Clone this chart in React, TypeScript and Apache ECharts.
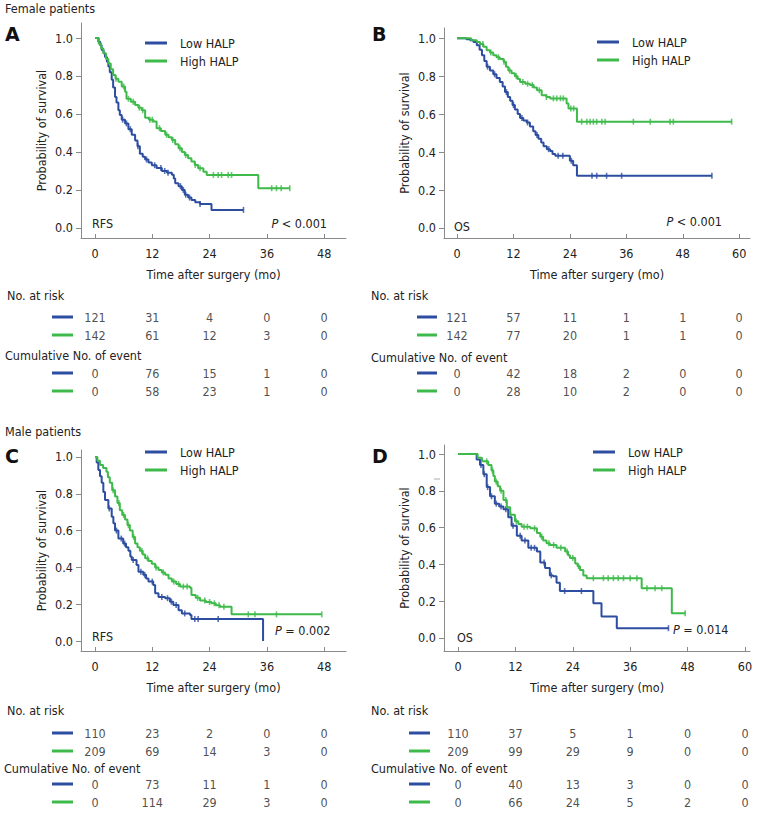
import React, { useEffect, useRef } from "react";
import * as echarts from "echarts";

const FONT = '"DejaVu Sans Condensed", "DejaVu Sans", sans-serif';
const BLUE = "#2c4da0";
const GREEN = "#3dba4a";
const TXT = "#222222";
const AX = "#8a8a8a";

// ---------- Panel A: female RFS ----------
const aLowT = [0, 0.7, 1.1, 1.4, 1.8, 2.1, 2.5, 2.8, 3.1, 3.5, 3.8, 4.2, 4.5, 4.9, 5.2, 5.6, 6.3, 7.0, 7.7, 8.4, 8.9, 9.4, 10.0, 10.5, 11.2, 11.9, 12.9, 14.0, 15.1, 16.1, 16.5, 16.8, 17.5, 18.2, 18.8, 19.5, 20.2, 21.0, 22.0, 24.4, 31.1];
const aLowS = [1.0, 0.98, 0.96, 0.937, 0.92, 0.9, 0.875, 0.85, 0.82, 0.78, 0.74, 0.69, 0.66, 0.62, 0.595, 0.57, 0.55, 0.52, 0.49, 0.46, 0.43, 0.39, 0.375, 0.36, 0.345, 0.33, 0.315, 0.3, 0.29, 0.28, 0.26, 0.235, 0.22, 0.2, 0.175, 0.16, 0.147, 0.135, 0.126, 0.095, 0.095];
const aLowCens = [5.8, 6.6, 7.4, 9.0, 10.8, 12.5, 13.8, 14.6, 15.3, 17.9, 18.5, 19.0, 19.8, 22.0, 31.1];
const aHighT = [0, 0.8, 1.3, 1.75, 2.3, 2.8, 3.3, 3.8, 4.3, 4.9, 5.6, 6.3, 6.6, 7.5, 8.4, 9.1, 9.8, 10.5, 11.3, 12.2, 12.9, 13.8, 14.7, 15.4, 16.1, 16.8, 17.5, 18.2, 18.8, 19.5, 20.2, 20.9, 21.6, 22.7, 23.4, 34.2, 40.8];
const aHighS = [1.0, 0.97, 0.945, 0.92, 0.89, 0.866, 0.835, 0.805, 0.785, 0.77, 0.745, 0.717, 0.68, 0.665, 0.647, 0.633, 0.62, 0.58, 0.57, 0.56, 0.525, 0.51, 0.49, 0.478, 0.463, 0.44, 0.42, 0.4, 0.384, 0.367, 0.35, 0.332, 0.314, 0.296, 0.279, 0.209, 0.209];
const aHighCens = [4.4, 6.0, 7.0, 8.0, 9.3, 10.0, 11.5, 12.0, 13.5, 15.0, 16.3, 17.8, 19.0, 21.0, 22.0, 24.8, 25.8, 26.5, 27.9, 28.6, 37, 38, 39, 40.8];
const aRiskLow = [121, 31, 4, 0, 0];
const aRiskHigh = [142, 61, 12, 3, 0];
const aEventLow = [0, 76, 15, 1, 0];
const aEventHigh = [0, 58, 23, 1, 0];

// ---------- Panel B: female OS ----------
const bLowT = [0, 2.0, 2.8, 3.5, 4.2, 4.8, 5.3, 5.8, 6.3, 7.0, 7.7, 8.4, 9.1, 9.7, 10.2, 10.8, 11.3, 11.8, 12.3, 12.9, 13.4, 14.1, 14.8, 15.5, 16.2, 16.7, 17.3, 17.9, 18.4, 19.1, 19.8, 20.3, 20.9, 24.0, 24.7, 25.5, 54.2];
const bLowS = [1.0, 0.995, 0.99, 0.98, 0.963, 0.94, 0.91, 0.88, 0.85, 0.83, 0.81, 0.79, 0.77, 0.745, 0.716, 0.69, 0.67, 0.648, 0.625, 0.6, 0.58, 0.567, 0.556, 0.535, 0.51, 0.49, 0.47, 0.45, 0.43, 0.415, 0.405, 0.39, 0.38, 0.354, 0.33, 0.275, 0.275];
const bLowCens = [6.5, 8.0, 10.5, 12.0, 13.8, 15.0, 17.0, 19.5, 21.5, 22.5, 24.3, 28.7, 29.7, 31.8, 35, 54.2];
const bHighT = [0, 3.0, 4.2, 4.9, 5.6, 6.3, 7.0, 7.7, 8.4, 9.1, 9.9, 10.4, 10.9, 11.6, 12.3, 12.9, 13.4, 14.5, 15.5, 16.3, 17.0, 18.0, 19.0, 19.8, 23.3, 23.7, 25.5, 58.4];
const bHighS = [1.0, 0.99, 0.98, 0.97, 0.955, 0.937, 0.925, 0.91, 0.9, 0.89, 0.876, 0.85, 0.83, 0.815, 0.8, 0.785, 0.77, 0.76, 0.753, 0.74, 0.726, 0.7, 0.69, 0.683, 0.656, 0.63, 0.56, 0.56];
const bHighCens = [5.5, 7.2, 8.8, 10.0, 11.2, 12.6, 14.0, 15.0, 16.0, 17.5, 19.0, 20.5, 21.2, 22.0, 22.6, 24.2, 24.8, 26.5, 27.6, 28.3, 29, 29.7, 30.8, 31.5, 37.5, 41.1, 45.3, 46, 58.4];
const bRiskLow = [121, 57, 11, 1, 1, 0];
const bRiskHigh = [142, 77, 20, 1, 1, 0];
const bEventLow = [0, 42, 18, 2, 0, 0];
const bEventHigh = [0, 28, 10, 2, 0, 0];

// ---------- Panel C: male RFS ----------
const cLowT = [0, 0.35, 0.7, 1.05, 1.4, 1.75, 2.1, 2.8, 3.5, 3.85, 4.2, 4.9, 5.9, 6.5, 7.0, 7.4, 7.7, 8.7, 9.1, 10.1, 10.7, 11.2, 12.2, 12.6, 13.3, 14.7, 15.7, 16.4, 17.5, 18.2, 19.9, 20.2, 35.2];
const cLowS = [1.0, 0.97, 0.93, 0.895, 0.86, 0.81, 0.766, 0.72, 0.675, 0.64, 0.6, 0.557, 0.53, 0.51, 0.49, 0.46, 0.44, 0.413, 0.377, 0.36, 0.34, 0.323, 0.304, 0.26, 0.24, 0.233, 0.214, 0.196, 0.168, 0.15, 0.141, 0.12, 0.0];
const cLowCens = [3.0, 4.5, 5.5, 6.2, 8.0, 9.6, 10.4, 12.0, 14.0, 15.2, 16.0, 17.0, 18.8, 20.9, 21.6, 25.8];
const cHighT = [0, 0.5, 1.05, 1.7, 2.4, 2.7, 3.1, 3.6, 4.2, 4.7, 5.2, 5.7, 6.3, 6.8, 7.3, 7.9, 8.4, 8.9, 9.4, 10.0, 10.5, 11.2, 11.9, 12.6, 13.3, 14.0, 14.7, 15.4, 16.1, 17.0, 17.8, 19.9, 20.2, 21.1, 22.0, 23.2, 24.4, 25.3, 26.2, 28.6, 47.5];
const cHighS = [1.0, 0.98, 0.957, 0.94, 0.92, 0.89, 0.86, 0.82, 0.785, 0.75, 0.71, 0.685, 0.66, 0.63, 0.6, 0.565, 0.53, 0.51, 0.49, 0.47, 0.45, 0.435, 0.42, 0.4, 0.386, 0.373, 0.36, 0.34, 0.323, 0.31, 0.296, 0.29, 0.25, 0.235, 0.22, 0.212, 0.205, 0.195, 0.187, 0.145, 0.145];
const cHighCens = [3.8, 5.0, 6.0, 7.0, 8.1, 9.8, 11.0, 12.8, 14.3, 16.5, 17.5, 18.5, 19.3, 21.5, 23.0, 24.0, 25.0, 26.0, 27.0, 32.1, 33.5, 38, 47.5];
const cRiskLow = [110, 23, 2, 0, 0];
const cRiskHigh = [209, 69, 14, 3, 0];
const cEventLow = [0, 73, 11, 1, 0];
const cEventHigh = [0, 114, 29, 3, 0];

// ---------- Panel D: male OS ----------
const dLowT = [0, 3.2, 3.9, 4.6, 5.3, 6.0, 6.7, 7.7, 8.6, 9.5, 10.5, 11.2, 12.3, 13.3, 14.7, 16.5, 17.2, 18.2, 19.2, 19.9, 20.6, 21.3, 28.3, 30.0, 33.2, 44.0];
const dLowS = [1.0, 1.0, 0.97, 0.94, 0.89, 0.82, 0.77, 0.73, 0.715, 0.7, 0.656, 0.61, 0.556, 0.53, 0.49, 0.47, 0.41, 0.38, 0.34, 0.335, 0.3, 0.255, 0.188, 0.116, 0.053, 0.053];
const dLowCens = [4.8, 5.5, 6.2, 7.0, 8.0, 9.0, 10.0, 11.5, 13.0, 14.0, 15.3, 16.0, 18.0, 19.5, 22.3, 25.8, 44.0];
const dHighT = [0, 3.2, 4.1, 5.0, 6.3, 7.0, 7.4, 7.7, 8.3, 8.8, 9.5, 10.2, 10.9, 11.9, 12.6, 13.3, 15.1, 16.5, 17.2, 17.8, 18.5, 19.2, 20.6, 22.4, 23.0, 23.4, 24.5, 25.0, 25.5, 26.2, 26.9, 38.4, 44.7, 47.5];
const dHighS = [1.0, 1.0, 0.98, 0.96, 0.94, 0.91, 0.88, 0.85, 0.825, 0.8, 0.75, 0.71, 0.67, 0.634, 0.62, 0.605, 0.596, 0.57, 0.55, 0.53, 0.515, 0.505, 0.49, 0.47, 0.45, 0.435, 0.405, 0.39, 0.37, 0.34, 0.325, 0.27, 0.134, 0.134];
const dHighCens = [6.0, 7.2, 8.0, 9.0, 10.0, 11.0, 12.2, 13.8, 14.5, 16.0, 17.5, 19.0, 20.0, 21.5, 22.8, 24.0, 25.2, 28.3, 30.4, 31.4, 32.5, 33.5, 34.6, 36, 37.4, 39.5, 41.2, 42.6, 47.5];
const dRiskLow = [110, 37, 5, 1, 0, 0];
const dRiskHigh = [209, 99, 29, 9, 0, 0];
const dEventLow = [0, 40, 13, 3, 0, 0];
const dEventHigh = [0, 66, 24, 5, 2, 0];

const ticks48 = [0, 12, 24, 36, 48];
const ticks60 = [0, 12, 24, 36, 48, 60];
const yTicks = [0, 0.2, 0.4, 0.6, 0.8, 1.0];
const seriesNames = ["Low HALP", "High HALP"];

function levelAt(T: number[], S: number[], t: number) {
  let v = S[0];
  for (let i = 0; i < T.length; i++) if (T[i] <= t) v = S[i];
  return v;
}

const panels = [
  {
    letter: "A", endpoint: "RFS", p: "< 0.001",
    grid: { left: 81, top: 23, width: 265, height: 215 }, xMin: -2.93, xMax: 52.57, yMin: -0.053, yMax: 1.079, ticks: ticks48,
    low: [aLowT, aLowS, aLowCens], high: [aHighT, aHighS, aHighCens],
    table: [aRiskLow, aRiskHigh, aEventLow, aEventHigh], tableTop: 307, rows: [10, 28, 66, 84],
    legend: { left: 145, top: 36 }, letterPos: [5, 34], endpointPos: [92, 223], pPos: [327, 223, "right"],
    keyX: [52, 73], headX: [7, 5], headY: [295, 355],
  },
  {
    letter: "B", endpoint: "OS", p: "< 0.001",
    grid: { left: 444, top: 28, width: 306, height: 210 }, xMin: -2.77, xMax: 62.3, yMin: -0.053, yMax: 1.054, ticks: ticks60,
    low: [bLowT, bLowS, bLowCens], high: [bHighT, bHighS, bHighCens],
    table: [bRiskLow, bRiskHigh, bEventLow, bEventHigh], tableTop: 307, rows: [10, 28, 66, 84],
    legend: { left: 597, top: 35 }, letterPos: [372, 34], endpointPos: [454, 226], pPos: [722, 221, "right"],
    keyX: [417, 437], headX: [371, 371], headY: [295, 357],
  },
  {
    letter: "C", endpoint: "RFS", p: "= 0.002",
    grid: { left: 81, top: 450, width: 265, height: 201 }, xMin: -2.93, xMax: 52.57, yMin: -0.054, yMax: 1.038, ticks: ticks48,
    low: [cLowT, cLowS, cLowCens], high: [cHighT, cHighS, cHighCens],
    table: [cRiskLow, cRiskHigh, cEventLow, cEventHigh], tableTop: 723, rows: [10, 28, 61, 79],
    legend: { left: 145, top: 445 }, letterPos: [5, 456], endpointPos: [92, 636], pPos: [275, 630, "left"],
    keyX: [52, 73], headX: [7, 4], headY: [710, 768],
  },
  {
    letter: "D", endpoint: "OS", p: "= 0.014",
    grid: { left: 444, top: 445, width: 306, height: 206 }, xMin: -2.93, xMax: 61.05, yMin: -0.071, yMax: 1.049, ticks: ticks60,
    low: [dLowT, dLowS, dLowCens], high: [dHighT, dHighS, dHighCens],
    table: [dRiskLow, dRiskHigh, dEventLow, dEventHigh], tableTop: 723, rows: [10, 28, 61, 79],
    legend: { left: 593, top: 445 }, letterPos: [372, 456], endpointPos: [457, 637], pPos: [673, 629, "left"],
    keyX: [409, 430], headX: [371, 371], headY: [710, 768],
  },
];

const TABLE_H = 86;

function buildOption() {
  const grid: any[] = [];
  const xAxis: any[] = [];
  const yAxis: any[] = [];
  const series: any[] = [];
  const legend: any[] = [];
  const graphic: any[] = [];
  const text = (s: string, x: number, y: number, extra: any = {}) => ({
    type: "text", x, y, silent: true,
    style: { text: s, fontSize: 12.5, fontFamily: FONT, fill: TXT, align: "left", verticalAlign: "middle", ...extra },
  });

  graphic.push(text("Female patients", 5, 8));
  graphic.push(text("Male patients", 5, 431));

  panels.forEach((p, i) => {
    const gi = i * 2;
    const ti = gi + 1;
    grid.push({ ...p.grid, containLabel: false });
    grid.push({ left: p.grid.left, width: p.grid.width, top: p.tableTop, height: TABLE_H, containLabel: false });

    xAxis.push({
      gridIndex: gi, type: "value", min: p.xMin, max: p.xMax,
      axisLine: { show: true, onZero: false, lineStyle: { color: AX, width: 1 } },
      axisTick: { show: true, inside: true, length: 4, customValues: p.ticks, lineStyle: { color: AX } },
      axisLabel: { customValues: p.ticks, margin: 9, fontSize: 12.5, color: TXT, fontFamily: FONT },
      splitLine: { show: false },
      name: "Time after surgery (mo)", nameLocation: "middle", nameGap: 30,
      nameTextStyle: { fontSize: 12.5, color: TXT, fontFamily: FONT },
    });
    yAxis.push({
      gridIndex: gi, type: "value", min: p.yMin, max: p.yMax,
      axisLine: { show: true, onZero: false, lineStyle: { color: AX, width: 1 } },
      axisTick: { show: true, inside: false, length: 5, customValues: yTicks, lineStyle: { color: AX } },
      axisLabel: { customValues: yTicks, formatter: (v: number) => v.toFixed(1), margin: 8, fontSize: 12.5, color: TXT, fontFamily: FONT },
      splitLine: { show: false },
      name: "Probability of survival", nameLocation: "middle", nameGap: 33,
      nameTextStyle: { fontSize: 12.5, color: TXT, fontFamily: FONT },
    });
    xAxis.push({ gridIndex: ti, type: "value", min: p.xMin, max: p.xMax, show: false });
    yAxis.push({ gridIndex: ti, type: "value", min: 0, max: TABLE_H, inverse: true, show: false });

    const groups = [p.low, p.high];
    groups.forEach((g, k) => {
      const [T, S, C] = g as number[][];
      const color = k === 0 ? BLUE : GREEN;
      series.push({
        name: seriesNames[k], type: "line", step: "end", xAxisIndex: gi, yAxisIndex: gi,
        data: T.map((t, j) => [t, S[j]]), showSymbol: false, symbol: "none",
        lineStyle: { color, width: 2 }, itemStyle: { color }, silent: true,
      });
      series.push({
        name: seriesNames[k] + " censored", type: "scatter", xAxisIndex: gi, yAxisIndex: gi,
        data: C.map((t) => [t, levelAt(T, S, t)]), symbol: "rect", symbolSize: [1.6, 6],
        itemStyle: { color }, silent: true,
      });
    });

    // risk table
    const tableData: any[] = [];
    p.table.forEach((row, r) => {
      row.forEach((v, c) => {
        tableData.push({ value: [p.ticks[c], p.rows[r], v] });
      });
    });
    series.push({
      name: "table" + p.letter, type: "scatter", xAxisIndex: ti, yAxisIndex: ti,
      data: tableData, symbolSize: 1, itemStyle: { color: "rgba(0,0,0,0)" }, silent: true,
      label: { show: true, position: "inside", formatter: (q: any) => String(q.value[2]), fontSize: 12.5, color: TXT, fontFamily: FONT },
    });

    legend.push({
      data: seriesNames, orient: "vertical", left: p.legend.left, top: p.legend.top, padding: 0,
      icon: "rect", itemWidth: 22, itemHeight: 3, itemGap: 4, selectedMode: false,
      textStyle: { fontSize: 12.5, color: TXT, fontFamily: FONT, padding: [0, 0, 0, 8], lineHeight: 14 },
    });

    graphic.push(text(p.letter, p.letterPos[0], p.letterPos[1], { fontSize: 19, fontWeight: "bold", fill: "#111", fontFamily: '"DejaVu Sans", sans-serif' }));
    graphic.push(text(p.endpoint, p.endpointPos[0], p.endpointPos[1]));
    graphic.push({
      type: "text", x: p.pPos[0], y: p.pPos[1], silent: true,
      style: {
        text: "{i|P} " + p.p, fontSize: 12.5, fontFamily: FONT, fill: TXT,
        align: p.pPos[2], verticalAlign: "middle",
        rich: { i: { fontStyle: "italic", fontSize: 12.5, fontFamily: FONT, fill: TXT } },
      },
    });
    graphic.push(text("No. at risk", p.headX[0], p.headY[0]));
    graphic.push(text("Cumulative No. of event", p.headX[1], p.headY[1]));
    p.rows.forEach((ry, r) => {
      graphic.push({
        type: "line", silent: true,
        shape: { x1: p.keyX[0], y1: p.tableTop + ry, x2: p.keyX[1], y2: p.tableTop + ry },
        style: { stroke: r % 2 === 0 ? BLUE : GREEN, lineWidth: 3 },
      });
    });
  });

  graphic.push({ type: "line", silent: true, shape: { x1: 434, y1: 479, x2: 440, y2: 479 }, style: { stroke: "#aaa", lineWidth: 1 } });

  return {
    animation: false,
    textStyle: { fontFamily: FONT },
    grid, xAxis, yAxis, series, legend, graphic,
  };
}

export default function App() {
  const ref = useRef<HTMLDivElement>(null);
  useEffect(() => {
    document.body.style.margin = "0";
    const chart = echarts.init(ref.current!, undefined, { renderer: "svg" });
    chart.setOption(buildOption() as any);
    return () => chart.dispose();
  }, []);
  return <div ref={ref} style={{ width: 761, height: 813, background: "#fff" }} />;
}
